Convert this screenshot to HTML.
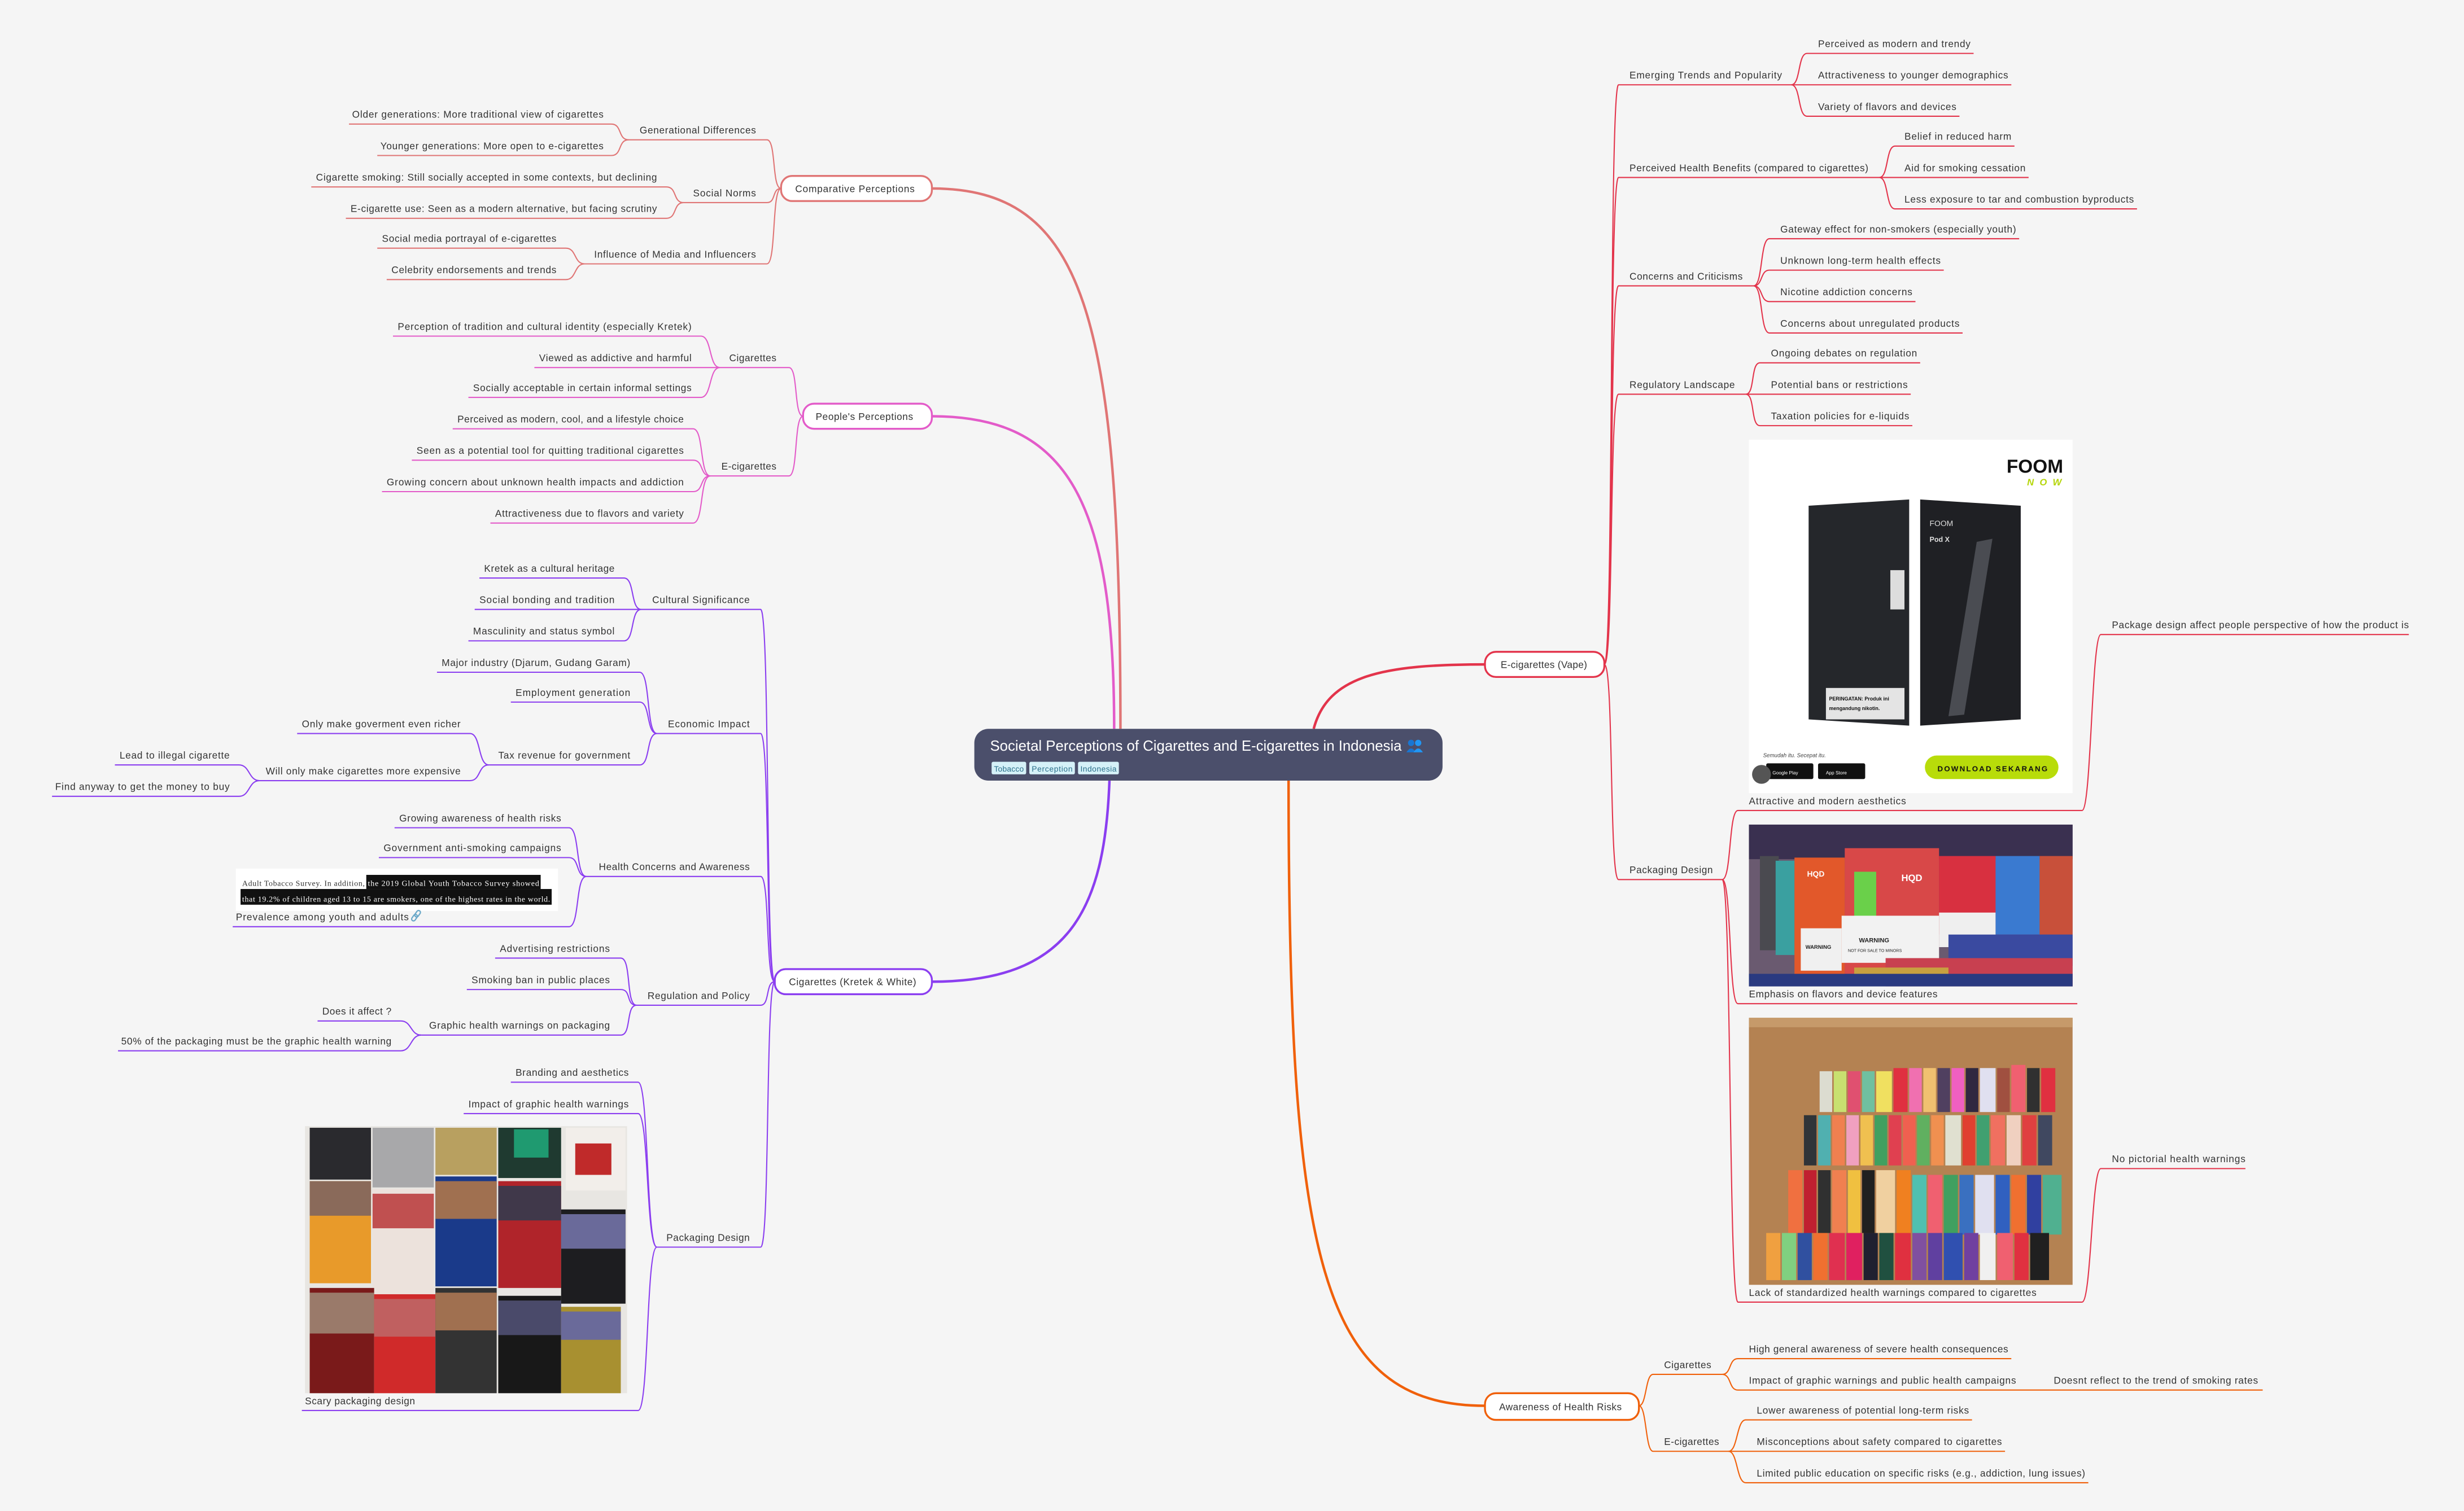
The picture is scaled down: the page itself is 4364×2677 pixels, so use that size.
<!DOCTYPE html>
<html><head><meta charset="utf-8"><style>
html,body{margin:0;padding:0;background:#f5f5f5;}
svg{display:block;}
text{font-family:"Liberation Sans",sans-serif;font-size:6.2px;fill:#333;}
.l{text-anchor:end;}
.c1{stroke:#e07575;}.c2{stroke:#e35bc9;}.c3{stroke:#8b3ef0;}.c4{stroke:#e3344b;}.c5{stroke:#f0600a;}
path{fill:none;stroke-width:0.75;}
.m{stroke-width:1.6;}
</style></head><body>
<svg width="4364" height="2677" viewBox="0 0 1568 962" xmlns="http://www.w3.org/2000/svg">
<rect x="0" y="0" width="1568" height="962" fill="#f5f5f5"/>

<!-- main connectors -->
<path class="c1 m" d="M713 464 C713 200 690 120 593 120"/>
<path class="c2 m" d="M709 464 C709 320 680 265 593 265"/>
<path class="c3 m" d="M706 497 C703 580 680 625 593 625"/>
<path class="c4 m" d="M836 464 C845 430 880 423 945 423"/>
<path class="c5 m" d="M820 497 C820 800 840 895 945 895"/>

<!-- Comparative -->
<g class="c1">
<path d="M400 89 H488 C494 89 491 120 497 120"/>
<path d="M222 79 H389 C396 79 393 89 400 89"/>
<path d="M240 99 H389 C396 99 393 89 400 89"/>
<path d="M435 129 H488 C494 129 491 120 497 120"/>
<path d="M198 119 H424 C431 119 428 129 435 129"/>
<path d="M220 139 H424 C431 139 428 129 435 129"/>
<path d="M372 168 H488 C494 168 491 120 497 120"/>
<path d="M240 158 H360 C367 158 365 168 372 168"/>
<path d="M246 178 H360 C367 178 365 168 372 168"/>
</g>
<text class="l" x="481" y="85" textLength="74">Generational Differences</text>
<text class="l" x="384" y="75" textLength="160">Older generations: More traditional view of cigarettes</text>
<text class="l" x="384" y="95" textLength="142">Younger generations: More open to e-cigarettes</text>
<text class="l" x="481" y="125" textLength="40">Social Norms</text>
<text class="l" x="418" y="115" textLength="217">Cigarette smoking: Still socially accepted in some contexts, but declining</text>
<text class="l" x="418" y="135" textLength="195">E-cigarette use: Seen as a modern alternative, but facing scrutiny</text>
<text class="l" x="481" y="164" textLength="103">Influence of Media and Influencers</text>
<text class="l" x="354" y="154" textLength="111">Social media portrayal of e-cigarettes</text>
<text class="l" x="354" y="174" textLength="105">Celebrity endorsements and trends</text>
<rect x="497" y="112" width="96" height="16" rx="7" fill="#fff" stroke="#e07575" stroke-width="1.2"/>
<text x="506" y="122.3" textLength="76">Comparative Perceptions</text>

<!-- People's -->
<g class="c2">
<path d="M458 234 H502 C508 234 505 265 511 265"/>
<path d="M250 214 H446 C453 214 451 234 458 234"/>
<path d="M340 234 H458"/>
<path d="M298 253 H446 C453 253 451 234 458 234"/>
<path d="M452 303 H502 C508 303 505 265 511 265"/>
<path d="M288 273 H441 C448 273 445 303 452 303"/>
<path d="M262 293 H441 C448 293 445 303 452 303"/>
<path d="M243 313 H441 C448 313 445 303 452 303"/>
<path d="M312 333 H441 C448 333 445 303 452 303"/>
</g>
<text class="l" x="494" y="230" textLength="30">Cigarettes</text>
<text class="l" x="440" y="210" textLength="187">Perception of tradition and cultural identity (especially Kretek)</text>
<text class="l" x="440" y="230" textLength="97">Viewed as addictive and harmful</text>
<text class="l" x="440" y="249" textLength="139">Socially acceptable in certain informal settings</text>
<text class="l" x="494" y="299" textLength="35">E-cigarettes</text>
<text class="l" x="435" y="269" textLength="144">Perceived as modern, cool, and a lifestyle choice</text>
<text class="l" x="435" y="289" textLength="170">Seen as a potential tool for quitting traditional cigarettes</text>
<text class="l" x="435" y="309" textLength="189">Growing concern about unknown health impacts and addiction</text>
<text class="l" x="435" y="329" textLength="120">Attractiveness due to flavors and variety</text>
<rect x="511" y="257" width="82" height="16" rx="7" fill="#fff" stroke="#e35bc9" stroke-width="1.2"/>
<text x="519" y="267.3" textLength="62">People's Perceptions</text>

<!-- Cigarettes Kretek & White -->
<g class="c3">
<path d="M408 388 H484 C490 388 487 625 493 625"/>
<path d="M305 368 H397 C404 368 401 388 408 388"/>
<path d="M302 388 H408"/>
<path d="M298 408 H397 C404 408 401 388 408 388"/>
<path d="M418 467 H484 C490 467 487 625 493 625"/>
<path d="M278 428 H407 C414 428 411 467 418 467"/>
<path d="M325 447 H407 C414 447 411 467 418 467"/>
<path d="M311 487 H407 C414 487 411 467 418 467"/>
<path d="M189 467 H299 C306 467 304 487 311 487"/>
<path d="M165 497 H299 C306 497 304 487 311 487"/>
<path d="M73 487 H152 C159 487 158 497 165 497"/>
<path d="M33 507 H152 C159 507 158 497 165 497"/>
<path d="M373 558 H484 C490 558 487 625 493 625"/>
<path d="M251 527 H362 C369 527 366 558 373 558"/>
<path d="M241 546 H362 C369 546 366 558 373 558"/>
<path d="M148 590 H362 C369 590 366 558 373 558"/>
<path d="M405 640 H484 C490 640 487 625 493 625"/>
<path d="M315 610 H395 C402 610 398 640 405 640"/>
<path d="M297 630 H395 C402 630 398 640 405 640"/>
<path d="M268 659 H395 C402 659 398 640 405 640"/>
<path d="M202 650 H255 C262 650 261 659 268 659"/>
<path d="M75 669 H255 C262 669 261 659 268 659"/>
<path d="M418 794 H484 C490 794 487 625 493 625"/>
<path d="M325 689 H406 C413 689 411 794 418 794"/>
<path d="M295 709 H406 C413 709 411 794 418 794"/>
<path d="M192 898 H406 C413 898 411 794 418 794"/>
</g>
<text class="l" x="477" y="384" textLength="62">Cultural Significance</text>
<text class="l" x="391" y="364" textLength="83">Kretek as a cultural heritage</text>
<text class="l" x="391" y="384" textLength="86">Social bonding and tradition</text>
<text class="l" x="391" y="404" textLength="90">Masculinity and status symbol</text>
<text class="l" x="477" y="463" textLength="52">Economic Impact</text>
<text class="l" x="401" y="424" textLength="120">Major industry (Djarum, Gudang Garam)</text>
<text class="l" x="401" y="443" textLength="73">Employment generation</text>
<text class="l" x="401" y="483" textLength="84">Tax revenue for government</text>
<text class="l" x="293" y="463" textLength="101">Only make goverment even richer</text>
<text class="l" x="293" y="493" textLength="124">Will only make cigarettes more expensive</text>
<text class="l" x="146" y="483" textLength="70">Lead to illegal cigarette</text>
<text class="l" x="146" y="503" textLength="111">Find anyway to get the money to buy</text>
<text class="l" x="477" y="554" textLength="96">Health Concerns and Awareness</text>
<text class="l" x="357" y="523" textLength="103">Growing awareness of health risks</text>
<text class="l" x="357" y="542" textLength="113">Government anti-smoking campaigns</text>
<rect x="150" y="553" width="205" height="27" fill="#fff"/>
<rect x="233" y="557" width="111" height="9" fill="#111"/>
<rect x="153" y="566" width="198" height="10" fill="#111"/>
<text x="154" y="564" style="font-family:'Liberation Serif',serif;font-size:5px" textLength="78">Adult Tobacco Survey. In addition,</text>
<text x="234" y="564" style="font-family:'Liberation Serif',serif;font-size:5px;fill:#fff" textLength="109">the 2019 Global Youth Tobacco Survey showed</text>
<text x="154" y="574" style="font-family:'Liberation Serif',serif;font-size:5px;fill:#fff" textLength="196">that 19.2% of children aged 13 to 15 are smokers, one of the highest rates in the world.</text>
<text x="150" y="586" textLength="110">Prevalence among youth and adults</text>
<g fill="none" stroke="#6aa8c8" stroke-width="0.8">
<rect x="262.5" y="582" width="2.4" height="4.5" rx="1.2" transform="rotate(35 263.7 584.2)"/>
<rect x="264.5" y="579.5" width="2.4" height="4.5" rx="1.2" transform="rotate(35 265.7 581.7)"/>
</g>
<text class="l" x="477" y="636" textLength="65">Regulation and Policy</text>
<text class="l" x="388" y="606" textLength="70">Advertising restrictions</text>
<text class="l" x="388" y="626" textLength="88">Smoking ban in public places</text>
<text class="l" x="388" y="655" textLength="115">Graphic health warnings on packaging</text>
<text class="l" x="249" y="646" textLength="44">Does it affect ?</text>
<text class="l" x="249" y="665" textLength="172">50% of the packaging must be the graphic health warning</text>
<text class="l" x="477" y="790" textLength="53">Packaging Design</text>
<text class="l" x="400" y="685" textLength="72">Branding and aesthetics</text>
<text class="l" x="400" y="705" textLength="102">Impact of graphic health warnings</text>
<!-- scary packaging image -->
<g>
<rect x="194" y="717" width="205" height="170" fill="#e8e6e2"/>
<rect x="197" y="718" width="39" height="33" fill="#2a2a2e"/>
<rect x="237" y="718" width="39" height="38" fill="#a8a8aa"/>
<rect x="277" y="718" width="39" height="30" fill="#b8a060"/>
<rect x="317" y="718" width="40" height="32" fill="#1f3a30"/>
<rect x="327" y="719" width="22" height="18" fill="#1f9a70"/>
<rect x="360" y="718" width="38" height="40" fill="#f2eeea"/>
<rect x="366" y="728" width="23" height="20" fill="#c02a2a"/>
<rect x="197" y="752" width="39" height="65" fill="#e89a2a"/>
<rect x="197" y="752" width="39" height="22" fill="#8a6a5a"/>
<rect x="237" y="757" width="39" height="70" fill="#ece2dc"/>
<rect x="237" y="760" width="39" height="22" fill="#c05050"/>
<rect x="277" y="749" width="39" height="70" fill="#1a3a8a"/>
<rect x="277" y="752" width="39" height="24" fill="#a07050"/>
<rect x="317" y="752" width="40" height="68" fill="#b0242a"/>
<rect x="317" y="755" width="40" height="22" fill="#40384a"/>
<rect x="357" y="770" width="41" height="60" fill="#1d1d20"/>
<rect x="357" y="773" width="41" height="22" fill="#6a6a9a"/>
<rect x="197" y="820" width="41" height="67" fill="#7a1a1a"/>
<rect x="197" y="823" width="41" height="26" fill="#9a7a6a"/>
<rect x="238" y="824" width="39" height="63" fill="#d02a2a"/>
<rect x="238" y="827" width="39" height="24" fill="#c06060"/>
<rect x="277" y="820" width="39" height="67" fill="#333"/>
<rect x="277" y="823" width="39" height="24" fill="#a07050"/>
<rect x="317" y="825" width="40" height="62" fill="#181818"/>
<rect x="317" y="828" width="40" height="22" fill="#4a4a6a"/>
<rect x="357" y="832" width="38" height="55" fill="#a89030"/>
<rect x="357" y="835" width="38" height="18" fill="#6a6a9a"/>
</g>
<text x="194" y="894" textLength="70">Scary packaging design</text>
<rect x="493" y="617" width="100" height="16" rx="7" fill="#fff" stroke="#8b3ef0" stroke-width="1.2"/>
<text x="502" y="627.3" textLength="81">Cigarettes (Kretek &amp; White)</text>

<!-- E-cigarettes (Vape) -->
<g class="c4">
<path d="M1021 423 C1027 423 1024 54 1030 54 H1140"/>
<path d="M1140 54 C1146 54 1144 34 1150 34 H1256"/>
<path d="M1140 54 H1280"/>
<path d="M1140 54 C1146 54 1144 74 1150 74 H1247"/>
<path d="M1021 423 C1027 423 1024 113 1030 113 H1196"/>
<path d="M1196 113 C1202 113 1200 93 1206 93 H1282"/>
<path d="M1196 113 H1291"/>
<path d="M1196 113 C1202 113 1200 133 1206 133 H1360"/>
<path d="M1021 423 C1027 423 1024 182 1030 182 H1116"/>
<path d="M1116 182 C1122 182 1120 152 1126 152 H1285"/>
<path d="M1116 182 C1122 182 1120 172 1126 172 H1237"/>
<path d="M1116 182 C1122 182 1120 192 1126 192 H1219"/>
<path d="M1116 182 C1122 182 1120 212 1126 212 H1249"/>
<path d="M1021 423 C1027 423 1024 251 1030 251 H1111"/>
<path d="M1111 251 C1117 251 1114 231 1120 231 H1222"/>
<path d="M1111 251 H1216"/>
<path d="M1111 251 C1117 251 1114 271 1120 271 H1217"/>
<path d="M1021 423 C1027 423 1024 560 1030 560 H1096"/>
<path d="M1096 560 C1102 560 1100 516 1106 516 H1325"/>
<path d="M1096 560 C1102 560 1100 639 1106 639 H1322"/>
<path d="M1096 560 C1102 560 1100 829 1106 829 H1325"/>
<path d="M1325 516 C1331 516 1331 404 1337 404 H1533"/>
<path d="M1325 829 C1331 829 1331 744 1337 744 H1429"/>
</g>
<text x="1037" y="50" textLength="97">Emerging Trends and Popularity</text>
<text x="1157" y="30" textLength="97">Perceived as modern and trendy</text>
<text x="1157" y="50" textLength="121">Attractiveness to younger demographics</text>
<text x="1157" y="70" textLength="88">Variety of flavors and devices</text>
<text x="1037" y="109" textLength="152">Perceived Health Benefits (compared to cigarettes)</text>
<text x="1212" y="89" textLength="68">Belief in reduced harm</text>
<text x="1212" y="109" textLength="77">Aid for smoking cessation</text>
<text x="1212" y="129" textLength="146">Less exposure to tar and combustion byproducts</text>
<text x="1037" y="178" textLength="72">Concerns and Criticisms</text>
<text x="1133" y="148" textLength="150">Gateway effect for non-smokers (especially youth)</text>
<text x="1133" y="168" textLength="102">Unknown long-term health effects</text>
<text x="1133" y="188" textLength="84">Nicotine addiction concerns</text>
<text x="1133" y="208" textLength="114">Concerns about unregulated products</text>
<text x="1037" y="247" textLength="67">Regulatory Landscape</text>
<text x="1127" y="227" textLength="93">Ongoing debates on regulation</text>
<text x="1127" y="247" textLength="87">Potential bans or restrictions</text>
<text x="1127" y="267" textLength="88">Taxation policies for e-liquids</text>
<text x="1037" y="556" textLength="53">Packaging Design</text>
<!-- FOOM image -->
<g>
<rect x="1113" y="280" width="206" height="225" fill="#fff"/>
<text x="1277" y="301" style="font-size:12px;font-weight:bold;fill:#111" textLength="36">FOOM</text>
<text x="1290" y="309" style="font-size:6px;font-weight:bold;font-style:italic;fill:#b5d60a" textLength="22">NOW</text>
<polygon points="1151,322 1215,318 1215,462 1151,458" fill="#25272b"/>
<rect x="1162" y="438" width="50" height="20" fill="#e4e4e4"/>
<text x="1164" y="446" style="font-size:3.2px;font-weight:bold;fill:#111">PERINGATAN: Produk ini</text>
<text x="1164" y="452" style="font-size:3.2px;font-weight:bold;fill:#111">mengandung nikotin.</text>
<rect x="1203" y="363" width="9" height="25" fill="#ddd"/>
<polygon points="1222,318 1286,322 1286,458 1222,462" fill="#1f2024"/>
<text x="1228" y="335" style="font-size:5px;fill:#ddd">FOOM</text>
<text x="1228" y="345" style="font-size:4.5px;font-weight:bold;fill:#ddd">Pod X</text>
<polygon points="1258,345 1268,343 1250,455 1240,456" fill="#4a4c52"/>
<text x="1122" y="482" style="font-size:3.5px;font-style:italic;fill:#444">Semudah itu. Secepat itu.</text>
<rect x="1124" y="486" width="30" height="10" rx="1" fill="#111"/>
<rect x="1157" y="486" width="30" height="10" rx="1" fill="#111"/>
<circle cx="1121" cy="493" r="6" fill="#555"/>
<text x="1128" y="493" style="font-size:3px;fill:#fff">Google Play</text>
<text x="1162" y="493" style="font-size:3px;fill:#fff">App Store</text>
<rect x="1225" y="481" width="85" height="15" rx="7.5" fill="#b8dc0a"/>
<text x="1233" y="491" style="font-size:4.8px;font-weight:bold;fill:#111" textLength="70">DOWNLOAD SEKARANG</text>
</g>
<text x="1113" y="512" textLength="100">Attractive and modern aesthetics</text>
<text x="1344" y="400" textLength="189">Package design affect people perspective of how the product is</text>
<!-- HQD image -->
<g>
<rect x="1113" y="525" width="206" height="103" fill="#6a5a70"/>
<rect x="1113" y="525" width="206" height="22" fill="#3a3050"/>
<rect x="1120" y="545" width="12" height="60" fill="#4a4a50"/>
<rect x="1130" y="548" width="12" height="60" fill="#3aa0a0"/>
<rect x="1142" y="546" width="32" height="76" fill="#e2582a"/>
<rect x="1146" y="591" width="26" height="27" fill="#f0f0f0"/>
<text x="1149" y="604" style="font-size:3.4px;font-weight:bold;fill:#222">WARNING</text>
<rect x="1174" y="540" width="60" height="80" fill="#d84848"/>
<rect x="1180" y="555" width="14" height="40" fill="#6ad04a"/>
<rect x="1172" y="583" width="62" height="30" fill="#f2f2f2"/>
<text x="1183" y="600" style="font-size:4px;font-weight:bold;fill:#222">WARNING</text>
<text x="1176" y="606" style="font-size:2.6px;fill:#222">NOT FOR SALE TO MINORS</text>
<text x="1210" y="561" style="font-size:6px;font-weight:bold;fill:#fff">HQD</text>
<text x="1150" y="558" style="font-size:5px;font-weight:bold;fill:#fff">HQD</text>
<rect x="1234" y="545" width="36" height="50" fill="#d83040"/>
<rect x="1234" y="581" width="36" height="22" fill="#efefef"/>
<rect x="1270" y="545" width="28" height="50" fill="#3a7ad0"/>
<rect x="1298" y="545" width="21" height="50" fill="#c8503a"/>
<rect x="1240" y="595" width="79" height="20" fill="#3a4aa0"/>
<rect x="1200" y="610" width="119" height="18" fill="#c84050"/>
<rect x="1180" y="616" width="60" height="6" fill="#c8a040"/>
<rect x="1113" y="620" width="206" height="8" fill="#2a3a80"/>
</g>
<text x="1113" y="635" textLength="120">Emphasis on flavors and device features</text>
<!-- Shelf image -->
<g>
<rect x="1113" y="648" width="206" height="170" fill="#b48252"/>
<rect x="1113" y="648" width="206" height="6" fill="#c69a6a"/>
<g fill="#e05050">
<rect x="1158" y="682" width="8" height="26" fill="#dcdcd0"/><rect x="1167" y="682" width="8" height="26" fill="#c8e070"/><rect x="1176" y="682" width="8" height="26" fill="#e05070"/><rect x="1185" y="682" width="8" height="26" fill="#70c0a0"/><rect x="1194" y="682" width="10" height="26" fill="#f0e060"/><rect x="1205" y="680" width="9" height="28" fill="#e03040"/><rect x="1215" y="680" width="8" height="28" fill="#f070b0"/><rect x="1224" y="680" width="8" height="28" fill="#f0c070"/><rect x="1233" y="680" width="8" height="28" fill="#504060"/><rect x="1242" y="680" width="8" height="28" fill="#f060c0"/><rect x="1251" y="680" width="8" height="28" fill="#302840"/><rect x="1260" y="680" width="10" height="28" fill="#e0e0f0"/><rect x="1271" y="680" width="8" height="28" fill="#a05040"/><rect x="1280" y="678" width="9" height="30" fill="#f06070"/><rect x="1290" y="680" width="8" height="28" fill="#303030"/><rect x="1299" y="680" width="9" height="28" fill="#e03040"/>
<rect x="1148" y="710" width="8" height="32" fill="#303438"/><rect x="1157" y="710" width="8" height="32" fill="#50b0b0"/><rect x="1166" y="710" width="8" height="32" fill="#f08050"/><rect x="1175" y="710" width="8" height="32" fill="#f0a0c0"/><rect x="1184" y="710" width="8" height="32" fill="#f0c050"/><rect x="1193" y="710" width="8" height="32" fill="#40a060"/><rect x="1202" y="710" width="8" height="32" fill="#e04050"/><rect x="1211" y="710" width="8" height="32" fill="#f06050"/><rect x="1220" y="710" width="8" height="32" fill="#60b060"/><rect x="1229" y="710" width="8" height="32" fill="#f09050"/><rect x="1238" y="710" width="10" height="32" fill="#e0e0d0"/><rect x="1249" y="710" width="8" height="32" fill="#e04030"/><rect x="1258" y="710" width="8" height="32" fill="#40a070"/><rect x="1267" y="710" width="9" height="32" fill="#f07060"/><rect x="1277" y="710" width="9" height="32" fill="#f0d0c0"/><rect x="1287" y="710" width="9" height="32" fill="#e04040"/><rect x="1297" y="710" width="9" height="32" fill="#404860"/>
<rect x="1138" y="745" width="9" height="40" fill="#f07040"/><rect x="1148" y="745" width="8" height="40" fill="#c02030"/><rect x="1157" y="745" width="8" height="40" fill="#303030"/><rect x="1166" y="745" width="9" height="40" fill="#f08050"/><rect x="1176" y="745" width="8" height="40" fill="#f0c040"/><rect x="1185" y="745" width="8" height="40" fill="#202020"/><rect x="1194" y="745" width="12" height="40" fill="#f0d0a0"/><rect x="1207" y="745" width="9" height="40" fill="#f08020"/><rect x="1217" y="748" width="9" height="38" fill="#50c0b0"/><rect x="1227" y="748" width="9" height="38" fill="#f06070"/><rect x="1237" y="748" width="9" height="38" fill="#40a060"/><rect x="1247" y="748" width="9" height="38" fill="#3a70c0"/><rect x="1257" y="748" width="12" height="38" fill="#e0e0f0"/><rect x="1270" y="748" width="9" height="38" fill="#3060c0"/><rect x="1280" y="748" width="9" height="38" fill="#f07030"/><rect x="1290" y="748" width="9" height="38" fill="#3040a0"/><rect x="1300" y="748" width="12" height="38" fill="#50b090"/>
<rect x="1124" y="785" width="9" height="30" fill="#f0a040"/><rect x="1134" y="785" width="9" height="30" fill="#80d080"/><rect x="1144" y="785" width="9" height="30" fill="#3050a0"/><rect x="1154" y="785" width="9" height="30" fill="#f07030"/><rect x="1164" y="785" width="10" height="30" fill="#e03050"/><rect x="1175" y="785" width="10" height="30" fill="#e02060"/><rect x="1186" y="785" width="9" height="30" fill="#202030"/><rect x="1196" y="785" width="9" height="30" fill="#205040"/><rect x="1206" y="785" width="10" height="30" fill="#e03040"/><rect x="1217" y="785" width="9" height="30" fill="#8050a0"/><rect x="1227" y="785" width="9" height="30" fill="#6040a0"/><rect x="1237" y="785" width="12" height="30" fill="#3050b0"/><rect x="1250" y="785" width="9" height="30" fill="#7040a0"/><rect x="1260" y="785" width="10" height="30" fill="#f0f0f0"/><rect x="1271" y="785" width="10" height="30" fill="#f06070"/><rect x="1282" y="785" width="9" height="30" fill="#e03040"/><rect x="1292" y="785" width="12" height="30" fill="#202020"/>
</g>
</g>
<text x="1113" y="825" textLength="183">Lack of standardized health warnings compared to cigarettes</text>
<text x="1344" y="740" textLength="85">No pictorial health warnings</text>
<rect x="945" y="415" width="76" height="16" rx="7" fill="#fff" stroke="#e3344b" stroke-width="1.2"/>
<text x="955" y="425.3" textLength="55">E-cigarettes (Vape)</text>

<!-- Awareness -->
<g class="c5">
<path d="M1043 895 C1048 895 1047 875 1052 875 H1096"/>
<path d="M1096 875 C1102 875 1100 865 1106 865 H1280"/>
<path d="M1096 875 C1102 875 1100 885 1106 885 H1440"/>
<path d="M1043 895 C1048 895 1047 924 1052 924 H1100"/>
<path d="M1100 924 C1106 924 1105 904 1111 904 H1255"/>
<path d="M1100 924 H1276"/>
<path d="M1100 924 C1106 924 1105 944 1111 944 H1329"/>
</g>
<text x="1059" y="871" textLength="30">Cigarettes</text>
<text x="1113" y="861" textLength="165">High general awareness of severe health consequences</text>
<text x="1113" y="881" textLength="170">Impact of graphic warnings and public health campaigns</text>
<text x="1307" y="881" textLength="130">Doesnt reflect to the trend of smoking rates</text>
<text x="1059" y="920" textLength="35">E-cigarettes</text>
<text x="1118" y="900" textLength="135">Lower awareness of potential long-term risks</text>
<text x="1118" y="920" textLength="156">Misconceptions about safety compared to cigarettes</text>
<text x="1118" y="940" textLength="209">Limited public education on specific risks (e.g., addiction, lung issues)</text>
<rect x="945" y="887" width="98" height="17" rx="7" fill="#fff" stroke="#f0600a" stroke-width="1.2"/>
<text x="954" y="897.8" textLength="78">Awareness of Health Risks</text>

<!-- central node -->
<rect x="620" y="464" width="298" height="33" rx="9" fill="#4b4f6b"/>
<text x="630" y="478" style="font-size:9.3px;fill:#fff" textLength="262">Societal Perceptions of Cigarettes and E-cigarettes in Indonesia</text>
<circle cx="898" cy="473" r="2" fill="#1976d2"/><path d="M895 479 Q898 474 901 479 Z" style="fill:#1976d2;stroke:none"/>
<circle cx="902.5" cy="473" r="2" fill="#2196f3"/><path d="M899.5 479 Q902.5 474 905.5 479 Z" style="fill:#2196f3;stroke:none"/>
<rect x="631" y="485" width="22" height="8" rx="1" fill="#d5f1f8"/>
<rect x="655" y="485" width="29" height="8" rx="1" fill="#d5f1f8"/>
<rect x="686" y="485" width="26" height="8" rx="1" fill="#d5f1f8"/>
<text x="632.5" y="491.3" style="font-size:5px;fill:#2a6f8a" textLength="19">Tobacco</text>
<text x="656.5" y="491.3" style="font-size:5px;fill:#2a6f8a" textLength="26">Perception</text>
<text x="687.5" y="491.3" style="font-size:5px;fill:#2a6f8a" textLength="23">Indonesia</text>
</svg>
</body></html>
